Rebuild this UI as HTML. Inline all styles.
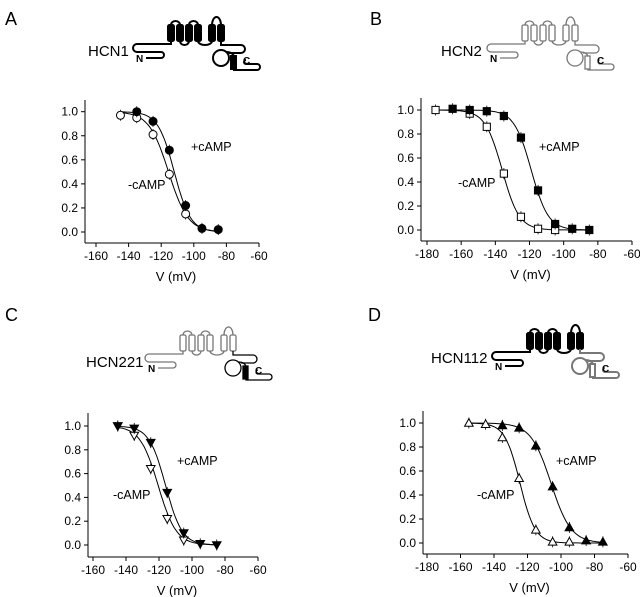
<!DOCTYPE html>
<html><head><meta charset="utf-8"><style>
html,body{margin:0;padding:0;background:#fff;}
svg{display:block;font-family:"Liberation Sans",Arial,sans-serif;}
</style></head><body>
<svg id="fig" width="640" height="597" viewBox="0 0 640 597"></svg>
<script>
// ---- data (V in mV, normalized conductance) ----
const xTicksAC = [-160,-140,-120,-100,-80,-60];
const xTicksBD = [-180,-160,-140,-120,-100,-80,-60];
const yTicks = [0,0.2,0.4,0.6,0.8,1.0];

const aPlusV = [-135,-125,-115,-105,-95,-85];
const aPlusG = [1.0,0.92,0.68,0.22,0.03,0.02];
const aMinusV = [-145,-135,-125,-115,-105];
const aMinusG = [0.97,0.95,0.81,0.48,0.15];
const aFit = [-112,5,-115.5,6];

const bPlusV = [-165,-155,-145,-135,-125,-115,-105,-95,-85];
const bPlusG = [1.01,1.0,0.99,0.95,0.77,0.33,0.05,0.01,0.0];
const bMinusV = [-175,-155,-145,-135,-125,-115,-105];
const bMinusG = [1.0,0.97,0.86,0.47,0.11,0.01,0.0];
const bFit = [-119,5,-136,5];

const cPlusV = [-145,-135,-125,-115,-105,-95,-85];
const cPlusG = [1.0,0.98,0.86,0.44,0.10,0.01,0.0];
const cMinusV = [-145,-135,-125,-115,-105];
const cMinusG = [1.0,0.92,0.64,0.22,0.04];
const cFit = [-116,5,-120.5,5.5];

const dPlusV = [-135,-125,-115,-105,-95,-85,-75];
const dPlusG = [0.98,0.96,0.81,0.47,0.13,0.02,0.01];
const dMinusV = [-155,-145,-135,-125,-115,-105,-95];
const dMinusG = [1.0,0.99,0.88,0.54,0.11,0.01,0.01];
const dFit = [-106,6,-124.5,4.5];

const NS="http://www.w3.org/2000/svg";
const svg=document.getElementById('fig');
function mk(tag,attrs,parent){const e=document.createElementNS(NS,tag);for(const k in attrs)e.setAttribute(k,attrs[k]);(parent||svg).appendChild(e);return e;}
function txt(s,x,y,size,anchor,parent,weight){const t=mk('text',{x:x,y:y,'font-size':size,'text-anchor':anchor||'start',fill:'#000'},parent);if(weight)t.setAttribute('font-weight',weight);t.textContent=s;return t;}

const panels=[
 {L:'A',name:'HCN1',lx:5,ly:25,hx:88,hy:56,dx:133,dy:22,tm:'k',nt:'k',ct:'k',ax:85,xL:96,xR:259,xmin:-160,xmax:-60,y1:111.7,y0:232,bot:243,top:100,ticks:xTicksAC,
  pv:aPlusV,pg:aPlusG,mv:aMinusV,mg:aMinusG,fit:aFit,range:[-145,-85],mk:'circle',plus:[191,151],minus:[128,189]},
 {L:'B',name:'HCN2',lx:370,ly:25,hx:441,hy:56,dx:487,dy:22,tm:'g',nt:'g',ct:'g',ax:421,xL:427,xR:632,xmin:-180,xmax:-60,y1:110,y0:230,bot:241,top:98,ticks:xTicksBD,
  pv:bPlusV,pg:bPlusG,mv:bMinusV,mg:bMinusG,fit:bFit,range:[-175,-85],mk:'square',plus:[539,151],minus:[458,187]},
 {L:'C',name:'HCN221',lx:5,ly:321,hx:86,hy:367,dx:145,dy:332,tm:'g',nt:'g',ct:'k',ax:88,xL:93,xR:258,xmin:-160,xmax:-60,y1:426,y0:545,bot:557,top:413,ticks:xTicksAC,
  pv:cPlusV,pg:cPlusG,mv:cMinusV,mg:cMinusG,fit:cFit,range:[-145,-85],mk:'down',plus:[177,465],minus:[113,499]},
 {L:'D',name:'HCN112',lx:368,ly:321,hx:431,hy:363,dx:492,dy:330,tm:'k',nt:'k',ct:'g',ax:423,xL:427,xR:628,xmin:-180,xmax:-60,y1:423,y0:543,bot:554,top:411,ticks:xTicksBD,
  pv:dPlusV,pg:dPlusG,mv:dMinusV,mg:dMinusG,fit:dFit,range:[-155,-75],mk:'up',plus:[556,465],minus:[477,499]}
];

function diagram(p,g){
  const k='#000',gr='#777';
  const tmC=p.tm==='k'?k:gr, nC=p.nt==='k'?k:gr, cC=p.ct==='k'?k:gr;
  const tmFill=p.tm==='k'?k:'#fff', cFill=p.ct==='k'?k:'#fff';
  const G=mk('g',{transform:'translate('+p.dx+','+p.dy+')',fill:'none','stroke-width':p.nt==='k'?2:1.3},g);
  
  
  mk('path',{d:'M38,19 V22 H4 a4,4 0 0 0 0,8 H28 a3,3 0 0 1 0,6 H13',stroke:nC},G);
  const xs=[35,44,53,62,76,85];
  let d='';
  for(let i=0;i<xs.length-1;i++){
    const a=xs[i]+3,b=xs[i+1]+3,r=(b-a)/2;
    if(i%2===0) d+='M'+a+',3 A'+r+','+(i===4?8:4)+' 0 0 1 '+b+',3 ';
    else d+='M'+a+',19 A'+r+',4 0 0 0 '+b+',19 ';
  }
  mk('path',{d:d,stroke:tmC},G);
  xs.forEach(x=>mk('rect',{x:x,y:3,width:6,height:16,rx:1.5,stroke:tmC,fill:tmFill},G));
  mk('path',{d:'M88,19 V23 H108 a4,4 0 0 1 0,8 H96',stroke:cC},G);
  mk('circle',{cx:88,cy:36,r:8,stroke:cC},G);
  mk('path',{d:'M93,30 Q101,30 101,36 V48 H124 a3,3 0 0 0 0,-6 H113 a2,2 0 0 1 0,-4',stroke:cC},G);
  mk('rect',{x:98,y:34,width:5,height:13,stroke:cC,fill:cFill},G);
  txt('N',p.dx+3,p.dy+40,10,'start',g,'bold');
  txt('C',p.dx+110,p.dy+42,10,'start',g,'bold');
}

function marker(type,x,y,filled,g){
  const f=filled?'#000':'#fff';let e;
  if(type==='circle') e=mk('circle',{cx:x,cy:y,r:4,fill:f,stroke:'#000','stroke-width':1},g);
  else if(type==='square') e=mk('rect',{x:x-3.6,y:y-3.6,width:7.2,height:7.2,fill:f,stroke:'#000','stroke-width':1},g);
  else if(type==='down') e=mk('polygon',{points:(x-4.3)+','+(y-3.3)+' '+(x+4.3)+','+(y-3.3)+' '+x+','+(y+4.3),fill:f,stroke:'#000','stroke-width':1},g);
  else e=mk('polygon',{points:(x-4.3)+','+(y+3.3)+' '+(x+4.3)+','+(y+3.3)+' '+x+','+(y-4.3),fill:f,stroke:'#000','stroke-width':1},g);
  return e;
}

panels.forEach(p=>{
  const g=mk('g',{});
  
  
  const X=v=>p.xL+(v-p.xmin)/(p.xmax-p.xmin)*(p.xR-p.xL);
  const Y=v=>p.y0+(p.y1-p.y0)*v;
  const lab=txt(p.L,p.lx,p.ly,18,'start',g);
  
  
  const hn=txt(p.name,p.hx,p.hy,15,'start',g);
  
  
  diagram(p,g);
  const ya=mk('line',{x1:p.ax,y1:p.top,x2:p.ax,y2:p.bot,stroke:'#000','stroke-width':1},g);
  
  
  const xa=mk('line',{x1:p.ax,y1:p.bot,x2:p.xR,y2:p.bot,stroke:'#000','stroke-width':1},g);
  
  
  yTicks.forEach(t=>{
    mk('line',{x1:p.ax-4,y1:Y(t),x2:p.ax,y2:Y(t),stroke:'#000'},g);
    const tl=txt(t.toFixed(1),p.ax-7,Y(t)+4,12,'end',g);
    
    
  });
  p.ticks.forEach(t=>{
    mk('line',{x1:X(t),y1:p.bot,x2:X(t),y2:p.bot+4,stroke:'#000'},g);
    const tl=txt(String(t),X(t),p.bot+17,12,'middle',g);
    
    
  });
  const xt=txt('V (mV)',(p.ax+p.xR)/2+4,p.bot+38,13,'middle',g);
  
  
  [[p.fit[0],p.fit[1]],[p.fit[2],p.fit[3]]].forEach((f,i)=>{
    let d='';
    for(let v=p.range[0];v<=p.range[1]+0.01;v+=1){
      const gv=1/(1+Math.exp((v-f[0])/f[1]));
      d+=(d?'L':'M')+X(v).toFixed(1)+','+Y(gv).toFixed(1);
    }
    const c=mk('path',{d:d,fill:'none',stroke:'#000','stroke-width':1},g);
    
    
  });
  p.mv.forEach((v,i)=>{
    const y=Y(p.mg[i]);
    mk('line',{x1:X(v),y1:y-5.5,x2:X(v),y2:y+5.5,stroke:'#000','stroke-width':0.8},g);
    const m=marker(p.mk,X(v),y,false,g);
    
    
  });
  p.pv.forEach((v,i)=>{
    const y=Y(p.pg[i]);
    mk('line',{x1:X(v),y1:y-5.5,x2:X(v),y2:y+5.5,stroke:'#000','stroke-width':0.8},g);
    const m=marker(p.mk,X(v),y,true,g);
    
    
  });
  const pl=txt('+cAMP',p.plus[0],p.plus[1],12.5,'start',g);
  
  
  const ml=txt('-cAMP',p.minus[0],p.minus[1],12.5,'start',g);
  
  
});
</script>
</body></html>
